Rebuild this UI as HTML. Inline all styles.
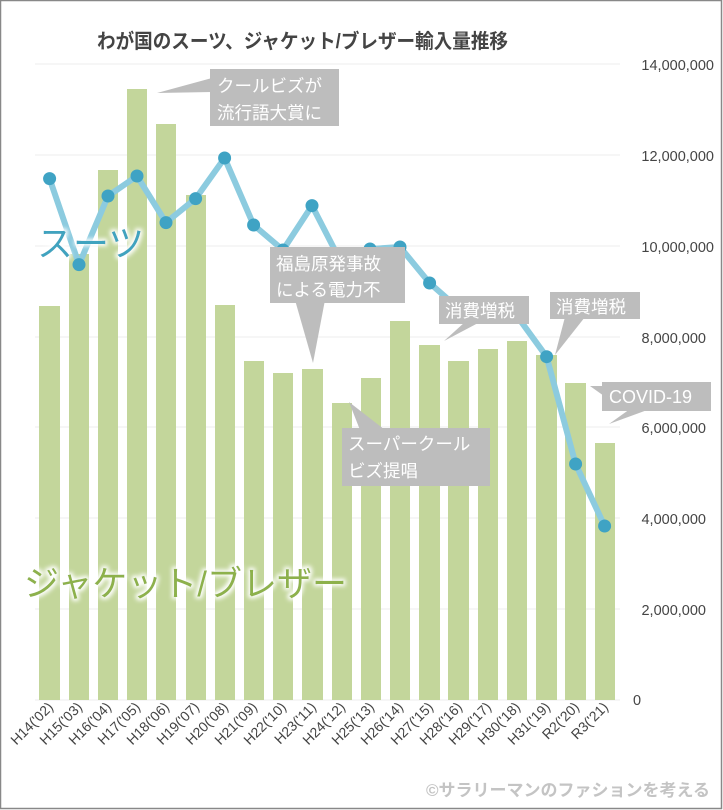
<!DOCTYPE html>
<html><head><meta charset="utf-8"><style>
html,body{margin:0;padding:0;background:#fff}
svg{display:block}
text{font-family:"Liberation Sans","Noto Sans CJK JP",sans-serif}
</style></head><body>
<svg width="723" height="810" viewBox="0 0 723 810" xmlns="http://www.w3.org/2000/svg">
<defs>
<filter id="glow" x="-10%" y="-30%" width="120%" height="160%">
<feMorphology operator="dilate" radius="2" in="SourceAlpha" result="d"/>
<feGaussianBlur in="d" stdDeviation="2" result="b"/>
<feFlood flood-color="#fff"/><feComposite in2="b" operator="in" result="w"/>
<feMerge><feMergeNode in="w"/><feMergeNode in="SourceGraphic"/></feMerge>
</filter>
</defs>
<rect x="0.5" y="0.5" width="721" height="808" fill="#fff" stroke="#888" stroke-width="1.5"/>
<text x="97" y="48" font-size="20" font-weight="bold" fill="#444" textLength="411" lengthAdjust="spacingAndGlyphs">わが国のスーツ、ジャケット/ブレザー輸入量推移</text>
<g stroke="#eee" stroke-width="1">
<line x1="35" x2="620" y1="64" y2="64"/><line x1="35" x2="620" y1="155" y2="155"/>
<line x1="35" x2="620" y1="246" y2="246"/><line x1="35" x2="620" y1="337" y2="337"/>
<line x1="35" x2="620" y1="427" y2="427"/><line x1="35" x2="620" y1="518" y2="518"/>
<line x1="35" x2="620" y1="609" y2="609"/><line x1="35" x2="620" y1="700" y2="700"/>
</g>
<g font-size="14.5" fill="#444" text-anchor="end">
<text x="714" y="70">14,000,000</text><text x="714" y="161">12,000,000</text>
<text x="714" y="252">10,000,000</text><text x="706" y="343">8,000,000</text>
<text x="706" y="433">6,000,000</text><text x="706" y="524">4,000,000</text>
<text x="706" y="615">2,000,000</text><text x="633" y="705" text-anchor="start">0</text>
</g>
<g fill="#c3d69b">
<rect x="39" y="306" width="21" height="394"/><rect x="69" y="254" width="20" height="446"/>
<rect x="98" y="170" width="20" height="530"/><rect x="127" y="89" width="20" height="611"/>
<rect x="156" y="124" width="20" height="576"/><rect x="186" y="195" width="20" height="505"/>
<rect x="215" y="305" width="20" height="395"/><rect x="244" y="361" width="20" height="339"/>
<rect x="273" y="373" width="20" height="327"/><rect x="302" y="369" width="21" height="331"/>
<rect x="332" y="403" width="20" height="297"/><rect x="361" y="378" width="20" height="322"/>
<rect x="390" y="321" width="20" height="379"/><rect x="419" y="345" width="21" height="355"/>
<rect x="448" y="361" width="21" height="339"/><rect x="478" y="349" width="20" height="351"/>
<rect x="507" y="341" width="20" height="359"/><rect x="536" y="355" width="21" height="345"/>
<rect x="565" y="383" width="21" height="317"/><rect x="595" y="443" width="20" height="257"/>
</g>
<polyline fill="none" stroke="#8ccbdf" stroke-width="6" stroke-linejoin="round" points="49.6,178.6 79,264.6 108,196 137,176 166,222.6 195.6,198.6 224.6,158 253.6,225 283,250 312,205.6 341,262 370,249 400,247 429.6,283 458,308 487,312 517,316 546.6,356.7 575.6,464 604.6,526"/>
<g fill="#3fa3c4">
<circle cx="49.6" cy="178.6" r="6.5"/><circle cx="79" cy="264.6" r="6.5"/><circle cx="108" cy="196" r="6.5"/>
<circle cx="137" cy="176" r="6.5"/><circle cx="166" cy="222.6" r="6.5"/><circle cx="195.6" cy="198.6" r="6.5"/>
<circle cx="224.6" cy="158" r="6.5"/><circle cx="253.6" cy="225" r="6.5"/><circle cx="283" cy="250" r="6.5"/>
<circle cx="312" cy="205.6" r="6.5"/><circle cx="341" cy="262" r="6.5"/><circle cx="370" cy="249" r="6.5"/>
<circle cx="400" cy="247" r="6.5"/><circle cx="429.6" cy="283" r="6.5"/>
<circle cx="546.6" cy="356.7" r="6.5"/>
<circle cx="575.6" cy="464" r="6.5"/><circle cx="604.6" cy="526" r="6.5"/>
</g>
<g fill="#bdbdbd">
<rect x="210" y="69" width="129" height="57"/><polygon points="157,93 212,78 212,92"/>
<rect x="270" y="247" width="135" height="56"/><polygon points="295,300 325,300 313,363"/>
<rect x="342" y="428" width="148" height="58"/><polygon points="349,402 360,430 385,430"/>
<rect x="439" y="296" width="90" height="28"/><polygon points="444,341 465,322 480,322"/>
<rect x="550" y="292" width="90" height="27"/><polygon points="555,355 565,317 585,317"/>
<rect x="602" y="382" width="109" height="29"/><polygon points="609,424 630,409 650,409"/><polygon points="590,386 604,386 604,396"/>
</g>
<g font-size="17.5" fill="#fff">
<text x="217" y="92">クールビズが</text><text x="217" y="119">流行語大賞に</text>
<text x="276" y="270">福島原発事故</text><text x="276" y="296">による電力不</text>
<text x="348" y="450">スーパークール</text><text x="348" y="477">ビズ提唱</text>
<text x="445" y="317">消費増税</text><text x="556" y="313">消費増税</text>
<text x="609" y="403" font-size="18">COVID-19</text>
</g>
<text x="37" y="256" font-size="36" fill="#3fa3bf" filter="url(#glow)">スーツ</text>
<text x="24" y="596" font-size="35" fill="#8db14c" filter="url(#glow)">ジャケット/ブレザー</text>
<g font-size="14" fill="#444" text-anchor="end">
<text transform="translate(54,708) rotate(-45)">H14('02)</text>
<text transform="translate(83,708) rotate(-45)">H15('03)</text>
<text transform="translate(112,708) rotate(-45)">H16('04)</text>
<text transform="translate(141,708) rotate(-45)">H17('05)</text>
<text transform="translate(170,708) rotate(-45)">H18('06)</text>
<text transform="translate(200,708) rotate(-45)">H19('07)</text>
<text transform="translate(229,708) rotate(-45)">H20('08)</text>
<text transform="translate(258,708) rotate(-45)">H21('09)</text>
<text transform="translate(287,708) rotate(-45)">H22('10)</text>
<text transform="translate(317,708) rotate(-45)">H23('11)</text>
<text transform="translate(346,708) rotate(-45)">H24('12)</text>
<text transform="translate(375,708) rotate(-45)">H25('13)</text>
<text transform="translate(404,708) rotate(-45)">H26('14)</text>
<text transform="translate(434,708) rotate(-45)">H27('15)</text>
<text transform="translate(463,708) rotate(-45)">H28('16)</text>
<text transform="translate(492,708) rotate(-45)">H29('17)</text>
<text transform="translate(521,708) rotate(-45)">H30('18)</text>
<text transform="translate(551,708) rotate(-45)">H31('19)</text>
<text transform="translate(580,708) rotate(-45)">R2('20)</text>
<text transform="translate(609,708) rotate(-45)">R3('21)</text>
</g>
<text x="710" y="796" font-size="17" font-weight="bold" fill="#c4c4c4" text-anchor="end">©サラリーマンのファションを考える</text>
</svg>
</body></html>
